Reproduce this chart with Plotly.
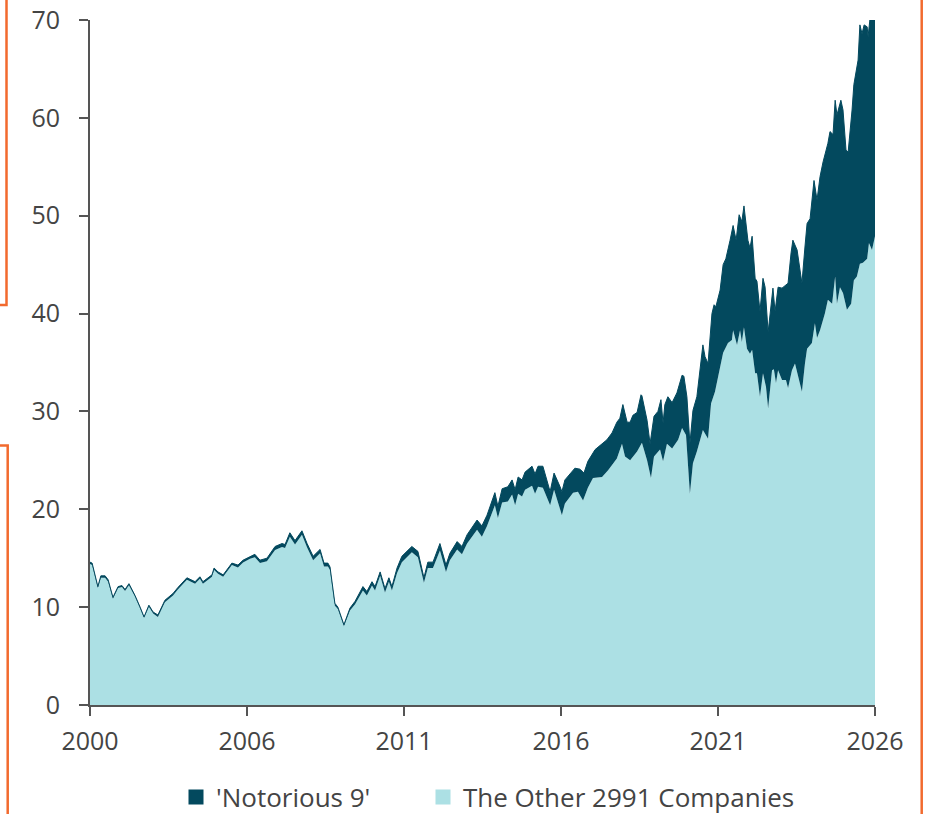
import plotly.graph_objects as go

# ---- data (decimal years, index values) ----
years_early = [2000.00, 2000.07, 2000.26, 2000.36, 2000.50, 2000.60, 2000.76, 2000.93, 2001.06, 2001.16,
               2001.29, 2001.49, 2001.66, 2001.79, 2001.95, 2002.09, 2002.25, 2002.48, 2002.75, 2002.91,
               2003.21, 2003.48, 2003.64, 2003.74, 2004.04, 2004.11, 2004.24, 2004.41, 2004.70, 2004.90,
               2005.07, 2005.30, 2005.46, 2005.63, 2005.86, 2006.13, 2006.36, 2006.46, 2006.62, 2006.79,
               2007.02, 2007.19, 2007.39, 2007.62, 2007.75, 2007.88, 2007.95, 2008.11, 2008.21, 2008.41,
               2008.61, 2008.78, 2009.04, 2009.17, 2009.34, 2009.44, 2009.61, 2009.77, 2009.90, 2010.00,
               2010.17, 2010.33, 2010.66, 2010.86, 2011.06, 2011.19, 2011.36, 2011.59, 2011.79, 2011.92,
               2012.16, 2012.32, 2012.49, 2012.82, 2012.98, 2013.15, 2013.41, 2013.51, 2013.65, 2013.84,
               2013.98, 2014.08, 2014.18, 2014.31, 2014.41, 2014.64, 2014.74, 2014.84, 2015.00, 2015.24,
               2015.37, 2015.57, 2015.63, 2015.73]

total_early = [14.6, 14.5, 12.1, 13.2, 13.2, 12.8, 11.0, 12.1, 12.2, 11.8,
               12.4, 11.2, 10.0, 9.0, 10.2, 9.5, 9.2, 10.7, 11.4, 12.0,
               13.0, 12.6, 13.1, 12.6, 13.3, 14.0, 13.6, 13.3, 14.5, 14.3,
               14.8, 15.2, 15.4, 14.8, 15.0, 16.2, 16.5, 16.4, 17.6, 16.8,
               17.8, 16.5, 15.2, 15.9, 14.5, 14.5, 14.1, 10.4, 10.0, 8.2,
               9.9, 10.6, 12.1, 11.6, 12.6, 12.1, 13.6, 11.9, 13.0, 12.1,
               14.0, 15.2, 16.2, 15.7, 13.0, 14.6, 14.6, 16.5, 14.3, 15.5,
               16.7, 16.2, 17.4, 18.9, 18.3, 19.4, 21.7, 20.3, 22.1, 22.3,
               23.0, 22.0, 23.3, 23.0, 23.8, 24.4, 23.6, 24.4, 24.4, 21.8,
               23.7, 22.3, 21.8, 23.0]

other_early = [14.4, 14.3, 11.95, 13.0, 13.0, 12.6, 10.85, 11.95, 12.05, 11.65,
               12.25, 11.05, 9.85, 8.9, 10.05, 9.35, 9.0, 10.5, 11.2, 11.8,
               12.8, 12.4, 12.9, 12.4, 13.1, 13.8, 13.4, 13.1, 14.3, 14.05,
               14.55, 14.95, 15.1, 14.5, 14.7, 15.85, 16.15, 16.05, 17.2, 16.4,
               17.4, 16.1, 14.8, 15.5, 14.15, 14.15, 13.8, 10.15, 9.8, 8.05,
               9.65, 10.3, 11.7, 11.2, 12.2, 11.7, 13.2, 11.5, 12.6, 11.7,
               13.5, 14.6, 15.6, 15.1, 12.5, 14.0, 14.0, 15.8, 13.6, 14.8,
               15.9, 15.4, 16.5, 17.9, 17.2, 18.3, 20.4, 19.1, 20.7, 20.8,
               21.5, 20.4, 21.6, 21.3, 22.0, 22.4, 21.6, 22.3, 22.2, 20.4,
               22.0, 19.8, 19.4, 20.6]

years_total_late = [2016.06, 2016.23, 2016.36, 2016.49, 2016.73, 2017.12, 2017.29, 2017.45, 2017.55, 2017.65,
                    2017.79, 2017.89, 2017.98, 2018.12, 2018.25, 2018.28, 2018.45, 2018.55, 2018.68, 2018.81,
                    2018.91, 2018.98, 2019.04, 2019.14, 2019.28, 2019.44, 2019.61, 2019.67, 2019.77, 2019.87,
                    2019.97, 2020.10, 2020.20, 2020.30, 2020.37, 2020.47, 2020.60, 2020.67, 2020.73, 2020.87,
                    2020.97, 2021.06, 2021.20, 2021.30, 2021.40, 2021.50, 2021.59, 2021.66, 2021.79, 2021.86,
                    2021.93, 2022.03, 2022.09, 2022.19, 2022.29, 2022.36, 2022.46, 2022.62, 2022.69, 2022.79,
                    2022.92, 2023.02, 2023.12, 2023.22, 2023.28, 2023.42, 2023.58, 2023.68, 2023.75, 2023.85,
                    2023.98, 2024.08, 2024.18, 2024.28, 2024.44, 2024.51, 2024.61, 2024.68, 2024.74, 2024.87,
                    2024.94, 2025.04, 2025.11, 2025.24, 2025.30, 2025.44, 2025.50, 2025.57, 2025.64, 2025.74,
                    2025.77, 2025.83, 2026.00]

total_late = [24.2, 24.1, 23.7, 24.9, 26.1, 27.1, 27.8, 28.9, 29.3, 30.7,
              28.9, 28.9, 29.6, 29.9, 31.7, 31.6, 29.1, 26.7, 29.5, 30.0,
              31.2, 28.8, 30.7, 31.5, 30.9, 31.9, 33.7, 33.6, 31.5, 26.7,
              30.1, 31.5, 34.5, 36.8, 35.6, 34.9, 40.0, 40.9, 40.7, 42.4,
              45.0, 45.6, 47.5, 49.0, 47.5, 50.1, 49.4, 51.0, 47.5, 46.7,
              47.9, 43.6, 43.3, 40.2, 43.6, 42.7, 38.1, 42.6, 40.2, 42.7,
              42.6, 42.9, 43.1, 46.2, 47.5, 46.5, 43.1, 46.8, 49.2, 49.7,
              53.6, 51.6, 54.0, 55.5, 57.4, 58.6, 58.3, 61.8, 60.3, 61.8,
              60.8, 56.7, 56.5, 60.8, 63.4, 65.9, 69.5, 68.6, 69.5, 69.3,
              68.3, 70.0, 70.0]

years_other_late = [2016.00, 2016.16, 2016.33, 2016.49, 2016.66, 2016.96, 2017.16, 2017.45, 2017.62, 2017.72,
                    2017.89, 2018.12, 2018.28, 2018.45, 2018.58, 2018.68, 2018.88, 2018.98, 2019.11, 2019.28,
                    2019.48, 2019.61, 2019.74, 2019.87, 2019.97, 2020.10, 2020.30, 2020.47, 2020.57, 2020.70,
                    2020.80, 2020.97, 2021.13, 2021.26, 2021.30, 2021.43, 2021.53, 2021.59, 2021.66, 2021.76,
                    2021.86, 2021.93, 2022.03, 2022.09, 2022.19, 2022.29, 2022.39, 2022.46, 2022.59, 2022.65,
                    2022.72, 2022.79, 2022.92, 2023.05, 2023.12, 2023.25, 2023.35, 2023.58, 2023.68, 2023.75,
                    2023.91, 2024.01, 2024.08, 2024.18, 2024.34, 2024.44, 2024.58, 2024.68, 2024.74, 2024.84,
                    2024.94, 2025.07, 2025.21, 2025.30, 2025.40, 2025.50, 2025.60, 2025.74, 2025.80, 2025.90,
                    2026.00]

other_late = [21.7, 21.8, 20.9, 22.2, 23.2, 23.3, 24.0, 25.2, 26.7, 25.4,
              25.0, 25.9, 26.8, 25.0, 23.2, 25.4, 26.1, 24.9, 26.7, 26.2,
              27.1, 28.3, 27.6, 21.6, 24.7, 25.9, 28.1, 27.2, 30.8, 32.0,
              33.5, 36.0, 37.0, 37.3, 38.3, 36.8, 38.3, 37.1, 38.6, 36.4,
              35.9, 36.3, 33.9, 33.9, 31.5, 33.9, 32.5, 30.3, 34.2, 34.3,
              32.9, 34.2, 33.2, 33.2, 32.4, 34.2, 34.9, 32.0, 34.9, 36.4,
              37.0, 39.0, 37.5, 38.3, 40.0, 41.4, 41.0, 43.8, 41.0, 42.7,
              42.1, 40.4, 41.0, 43.4, 43.8, 45.1, 45.2, 45.6, 47.2, 46.5,
              47.9]

series_names = ["'Notorious 9'", "The Other 2991 Companies"]
tick_years = [2000.0, 2005.2, 2010.4, 2015.6, 2020.8, 2026.0]
tick_labels = ["2000", "2006", "2011", "2016", "2021", "2026"]
y_ticks = [0, 10, 20, 30, 40, 50, 60, 70]

DARK = "#03495E"
LIGHT = "#ACE0E4"
ORANGE = "#F26A2E"
AXIS = "#555555"
TXT = "#444444"
FONT = "Open Sans"

x_other = years_early + years_other_late
y_other = other_early + other_late
x_total = years_early + years_total_late
y_total = total_early + total_late

fig = go.Figure()
fig.add_trace(go.Scatter(x=x_other, y=y_other, mode="lines", fill="tozeroy",
                         line=dict(color=LIGHT, width=0), fillcolor=LIGHT,
                         showlegend=False, hoverinfo="skip"))
fig.add_trace(go.Scatter(x=x_total, y=y_total, mode="lines", fill="tonexty",
                         line=dict(color=DARK, width=1), fillcolor=DARK,
                         showlegend=False, hoverinfo="skip"))
# legend entries (one legend box each, so they can be placed like the reference)
fig.add_trace(go.Scatter(x=[None], y=[None], mode="markers", name=series_names[0],
                         marker=dict(symbol="square", size=15, color=DARK), legend="legend"))
fig.add_trace(go.Scatter(x=[None], y=[None], mode="markers", name=series_names[1],
                         marker=dict(symbol="square", size=15, color=LIGHT), legend="legend2"))

def ox(px):
    return (px - 90) / 785.0

def oy(py):
    return (705 - py) / 685.0

shapes = [
    dict(type="path", xref="paper", yref="paper",
         path=f"M {ox(6.5)},{oy(-2)} L {ox(6.5)},{oy(305)} L {ox(-2)},{oy(305)}",
         line=dict(color=ORANGE, width=2.5)),
    dict(type="path", xref="paper", yref="paper",
         path=f"M {ox(-2)},{oy(445.5)} L {ox(7.7)},{oy(445.5)} L {ox(7.7)},{oy(816)}",
         line=dict(color=ORANGE, width=2.5)),
    dict(type="line", xref="paper", yref="paper",
         x0=ox(921.7), x1=ox(921.7), y0=oy(-2), y1=oy(816),
         line=dict(color=ORANGE, width=2.5)),
]

legend_common = dict(orientation="h", yanchor="middle", xanchor="left",
                     font=dict(size=26, color=TXT), itemwidth=30,
                     bgcolor="rgba(0,0,0,0)")

fig.update_layout(
    width=932, height=814,
    margin=dict(l=90, r=57, t=20, b=109, autoexpand=False),
    paper_bgcolor="white", plot_bgcolor="white",
    font=dict(family=FONT, size=25, color=TXT),
    shapes=shapes,
    showlegend=True,
    legend=dict(x=ox(176), y=oy(797), **legend_common),
    legend2=dict(x=ox(423), y=oy(797), **legend_common),
    xaxis=dict(range=[2000, 2026], tickmode="array", tickvals=tick_years, ticktext=tick_labels,
               showgrid=False, zeroline=False, showline=True, linecolor=AXIS, linewidth=2,
               ticks="outside", ticklen=9, tickwidth=2, tickcolor=AXIS, automargin=False,
               tickfont=dict(size=25, color=TXT), ticklabelstandoff=4),
    yaxis=dict(range=[0, 70], tickmode="array", tickvals=y_ticks,
               showgrid=False, zeroline=False, showline=True, linecolor=AXIS, linewidth=2,
               ticks="outside", ticklen=9, tickwidth=2, tickcolor=AXIS, automargin=False,
               tickfont=dict(size=25, color=TXT), ticklabelstandoff=14),
)

fig.write_html("out.html", config={"displayModeBar": False},
               post_script="document.body.style.margin='0';document.body.style.overflow='hidden';")
